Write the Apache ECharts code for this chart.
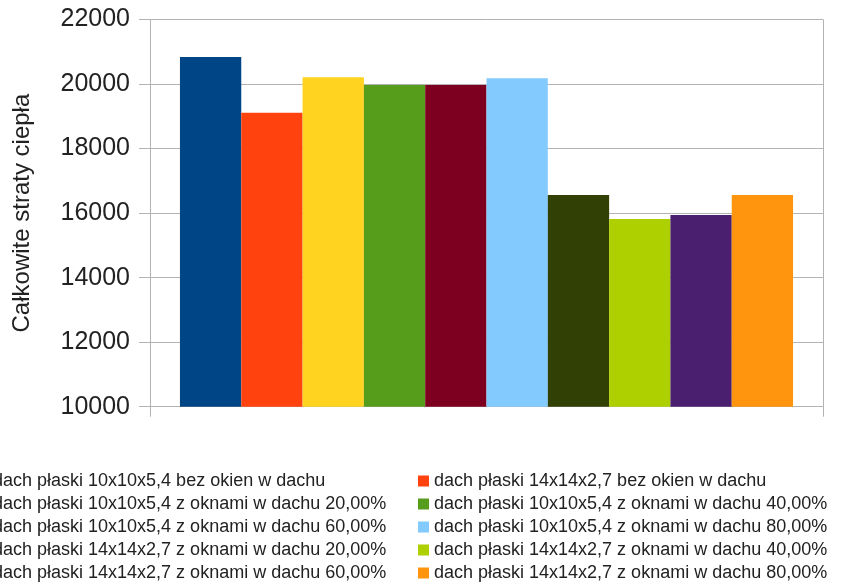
<!DOCTYPE html>
<html>
<head>
<meta charset="utf-8">
<script src="https://cdn.jsdelivr.net/npm/echarts@6/dist/echarts.min.js"></script>
<style>
  html, body { margin: 0; padding: 0; background: #fff; }
  #chart { width: 853px; height: 583px; }
</style>
</head>
<body>
<div id="chart"></div>
<script>
// Heat loss per roof variant
const categories = [''];
const seriesNames = [
  'dach płaski 10x10x5,4 bez okien w dachu',
  'dach płaski 14x14x2,7 bez okien w dachu',
  'dach płaski 10x10x5,4 z oknami w dachu 20,00%',
  'dach płaski 10x10x5,4 z oknami w dachu 40,00%',
  'dach płaski 10x10x5,4 z oknami w dachu 60,00%',
  'dach płaski 10x10x5,4 z oknami w dachu 80,00%',
  'dach płaski 14x14x2,7 z oknami w dachu 20,00%',
  'dach płaski 14x14x2,7 z oknami w dachu 40,00%',
  'dach płaski 14x14x2,7 z oknami w dachu 60,00%',
  'dach płaski 14x14x2,7 z oknami w dachu 80,00%'
];
const seriesValues = [20840, 19110, 20210, 19970, 19970, 20180, 16560, 15815, 15940, 16560];
const seriesColors = ['#004586', '#ff420e', '#ffd320', '#579d1c', '#7e0021',
                      '#83caff', '#314004', '#aecf00', '#4b1f6f', '#ff950e'];
const yTicks = { min: 10000, max: 22000, interval: 2000 };
const yAxisTitle = 'Całkowite straty ciepła';

const chart = echarts.init(document.getElementById('chart'), null, { renderer: 'canvas' });

const series = seriesNames.map((name, i) => ({
  name: name,
  type: 'bar',
  data: [seriesValues[i]],
  itemStyle: { color: seriesColors[i] },
  barGap: '0%',
  barCategoryGap: '8.9%'
}));

const legendText = { color: '#222', fontSize: 18, fontFamily: 'Liberation Sans', lineHeight: 20 };
const legendCommon = {
  orient: 'vertical',
  icon: 'rect',
  itemWidth: 11,
  itemHeight: 11,
  itemGap: 3,
  top: 471,
  padding: 0,
  textStyle: legendText,
  selectedMode: false
};

chart.setOption({
  animation: false,
  backgroundColor: '#fff',
  color: seriesColors,
  grid: { left: 150, right: 30, top: 19.5, bottom: 176.3, containLabel: false, outerBoundsMode: 'none' },
  legend: [
    Object.assign({}, legendCommon, {
      left: -23,
      data: seriesNames.filter((_, i) => i % 2 === 0)
    }),
    Object.assign({}, legendCommon, {
      left: 418,
      data: seriesNames.filter((_, i) => i % 2 === 1)
    })
  ],
  xAxis: {
    type: 'category',
    data: categories,
    axisLine: { lineStyle: { color: '#b3b3b3', width: 1 } },
    axisTick: { show: true, length: 10, lineStyle: { color: '#b3b3b3' } },
    axisLabel: { show: false },
    splitLine: { show: true, lineStyle: { color: '#b3b3b3' } }
  },
  yAxis: {
    type: 'value',
    min: yTicks.min,
    max: yTicks.max,
    interval: yTicks.interval,
    name: yAxisTitle,
    nameLocation: 'middle',
    nameGap: 116,
    nameTextStyle: { fontSize: 24, color: '#222', fontFamily: 'Liberation Sans' },
    axisLine: { show: true, lineStyle: { color: '#b3b3b3' } },
    axisTick: { show: true, length: 11, lineStyle: { color: '#b3b3b3' } },
    axisLabel: {
      fontSize: 25, color: '#222', fontFamily: 'Liberation Sans', margin: 20,
      formatter: (v) => String(v)
    },
    splitLine: { show: true, lineStyle: { color: '#b3b3b3' } }
  },
  series: series
});
</script>
</body>
</html>
